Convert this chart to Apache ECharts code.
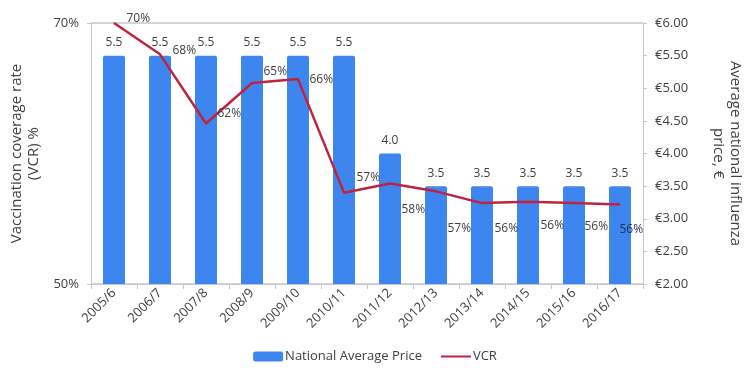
<!DOCTYPE html>
<html>
<head>
<meta charset="utf-8">
<script src="https://cdn.jsdelivr.net/npm/echarts@6/dist/echarts.min.js"></script>
<style>html,body{margin:0;padding:0;background:#fff}#c{width:750px;height:388px}</style>
</head>
<body>
<div id="c"></div>
<script>
const categories = ['2005/6','2006/7','2007/8','2008/9','2009/10','2010/11','2011/12','2012/13','2013/14','2014/15','2015/16','2016/17'];
const priceValues = [5.5, 5.5, 5.5, 5.5, 5.5, 5.5, 4.0, 3.5, 3.5, 3.5, 3.5, 3.5];
const vcrValues = [70.0, 67.6, 62.3, 65.4, 65.7, 57.0, 57.7, 57.1, 56.2, 56.3, 56.2, 56.1];
const leftTicks = [50, 70];
const rightTicks = [2.0, 2.5, 3.0, 3.5, 4.0, 4.5, 5.0, 5.5, 6.0];

const FONT = 'Open Sans';
const TXT = '#404040';
const GRAY = '#c4c8cc';

// label placement tweaks (style only)
const lblOff = [[12,-4],[12,-4],[11,-10],[11,-11],[11,0],[12,-15],[11,26],[11,37],[12,25],[12,24],[10,23],[-1,25]];

const chart = echarts.init(document.getElementById('c'));
chart.setOption({
  animation: false,
  textStyle: {fontFamily: FONT, color: TXT},
  grid: {left: 91, right: 107, top: 23, bottom: 104, containLabel: false, outerBoundsMode: 'none'},
  legend: {
    bottom: 20, left: 'center', itemWidth: 30, itemHeight: 10, itemGap: 18,
    textStyle: {fontFamily: FONT, fontSize: 13, color: TXT, padding: [0,0,0,-3]},
    data: [{name: 'National Average Price', icon: 'roundRect'}, {name: 'VCR', itemStyle: {opacity: 0}}]
  },
  xAxis: {
    type: 'category', data: categories, boundaryGap: true,
    axisLine: {lineStyle: {color: GRAY, width: 1}},
    axisTick: {show: true, length: 5, lineStyle: {color: GRAY}},
    axisLabel: {rotate: 45, fontSize: 13, color: TXT, margin: 7, fontFamily: FONT}
  },
  yAxis: [
    {
      type: 'value', min: leftTicks[0], max: leftTicks[leftTicks.length-1], interval: leftTicks[1]-leftTicks[0],
      name: 'Vaccination coverage rate\n(VCR) %', nameLocation: 'middle', nameGap: 47, nameRotate: 90,
      nameTextStyle: {fontSize: 15, color: TXT, fontFamily: FONT, lineHeight: 17},
      axisLine: {show: true, lineStyle: {color: GRAY}},
      axisTick: {show: true, length: 4, lineStyle: {color: GRAY}},
      axisLabel: {formatter: '{value}%', fontSize: 13, color: TXT, margin: 12, fontFamily: FONT},
      splitLine: {show: true, lineStyle: {color: GRAY, width: 1.5}}
    },
    {
      type: 'value', min: rightTicks[0], max: rightTicks[rightTicks.length-1], interval: rightTicks[1]-rightTicks[0],
      position: 'right',
      name: 'Average national influenza\nprice, €', nameLocation: 'middle', nameGap: 67, nameRotate: -90,
      nameTextStyle: {fontSize: 15, color: TXT, fontFamily: FONT, lineHeight: 17},
      axisLine: {show: true, lineStyle: {color: GRAY}},
      axisTick: {show: true, length: 4, lineStyle: {color: GRAY}},
      axisLabel: {formatter: v => '€' + v.toFixed(2), fontSize: 13, color: TXT, margin: 12, fontFamily: FONT},
      splitLine: {show: false}
    }
  ],
  series: [
    {
      name: 'National Average Price', type: 'bar', yAxisIndex: 1, data: priceValues,
      barWidth: 22,
      itemStyle: {color: '#3d86f0', borderRadius: [2,2,0,0]},
      label: {show: true, position: 'top', distance: 7, fontSize: 12, color: TXT, fontFamily: FONT,
        formatter: p => p.value.toFixed(1)}
    },
    {
      name: 'VCR', type: 'line', yAxisIndex: 0,
      data: vcrValues.map((v, i) => ({
        value: v,
        label: {offset: [lblOff[i][0], lblOff[i][1]], color: i === 11 ? '#1f2d50' : TXT}
      })),
      symbol: 'circle', symbolSize: 1, showSymbol: true,
      itemStyle: {color: '#c0233d'},
      lineStyle: {color: '#c0233d', width: 2.5},
      label: {show: true, position: 'right', distance: 0, fontSize: 12, fontFamily: FONT,
        formatter: p => Math.round(p.value) + '%'}
    }
  ]
});
</script>
</body>
</html>
